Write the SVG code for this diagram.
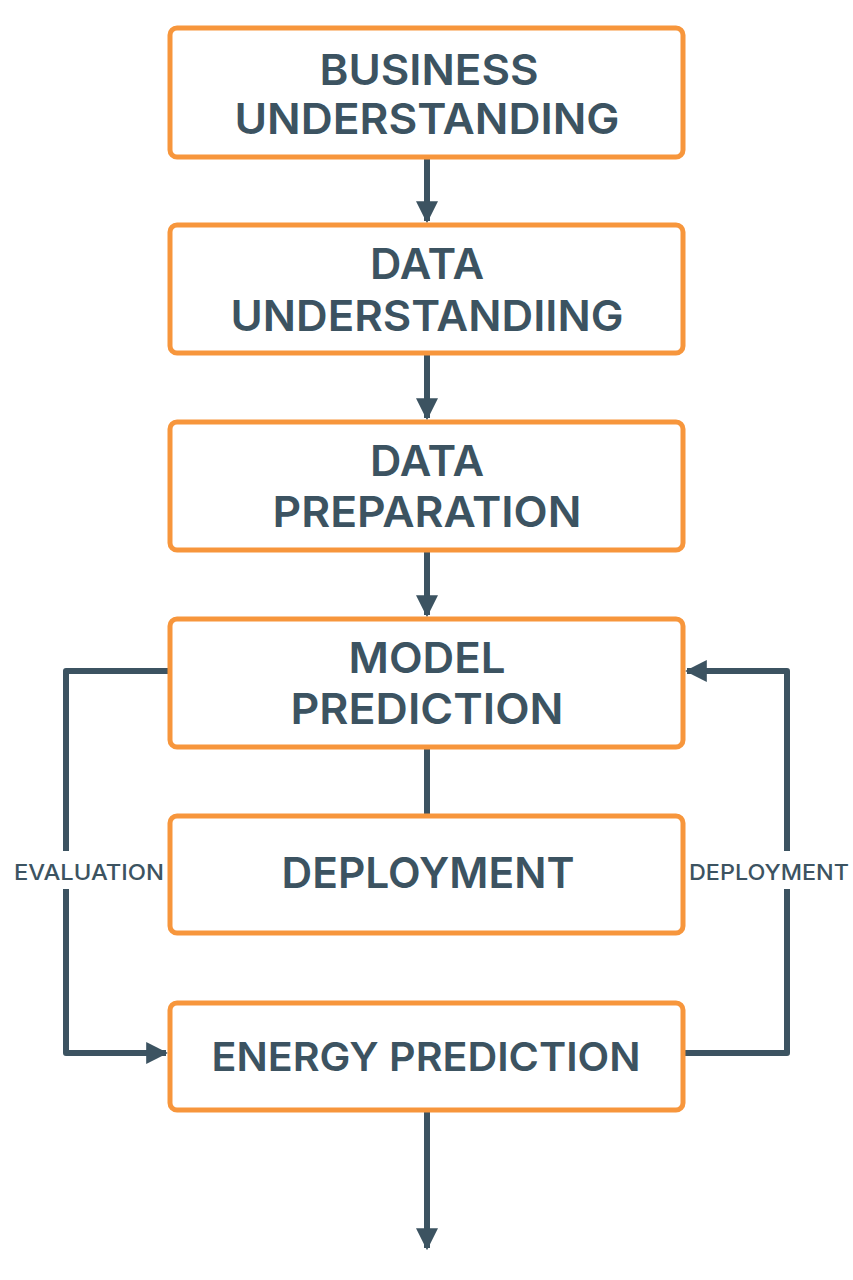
<svg xmlns="http://www.w3.org/2000/svg" width="853" height="1280" viewBox="0 0 853 1280">
<defs>
<style>
.box{fill:#ffffff;stroke:#F7963C;stroke-width:5}
.t{font-family:Inter,"Liberation Sans",Arial,sans-serif;font-weight:600;font-size:43px;fill:#3C5361;text-anchor:middle}
.lbl{font-family:Inter,"Liberation Sans",Arial,sans-serif;font-weight:500;font-size:22px;fill:#3C5361;text-anchor:middle}
.c{fill:none;stroke:#3C5361;stroke-width:6;stroke-linejoin:round}
</style>
<marker id="ah" viewBox="0 0 10 10" refX="9" refY="5" markerUnits="userSpaceOnUse" markerWidth="22" markerHeight="23" orient="auto">
<path d="M0,0 L10,5 L0,10 Z" fill="#3C5361"/>
</marker>
</defs>
<rect width="853" height="1280" fill="#ffffff"/>
<g id="connectors">
<line class="c" x1="427" y1="157" x2="427" y2="221" marker-end="url(#ah)"/>
<line class="c" x1="427" y1="354" x2="427" y2="418" marker-end="url(#ah)"/>
<line class="c" x1="427" y1="551" x2="427" y2="615" marker-end="url(#ah)"/>
<line class="c" x1="427" y1="748" x2="427" y2="815"/>
<line class="c" x1="427" y1="1110" x2="427" y2="1248" marker-end="url(#ah)"/>
<path class="c" d="M170,671 H66 V851"/>
<path class="c" d="M66,889 V1053 H166" marker-end="url(#ah)"/>
<path class="c" d="M684,1053 H787 V889"/>
<path class="c" d="M787,851 V671 H687" marker-end="url(#ah)"/>
<text class="lbl" x="89" y="880" textLength="150" lengthAdjust="spacingAndGlyphs">EVALUATION</text>
<text class="lbl" x="769" y="880" textLength="160" lengthAdjust="spacingAndGlyphs">DEPLOYMENT</text>
</g>
<g id="business">
<rect class="box" x="170" y="28" width="513" height="129" rx="7"/>
<text class="t" x="429" y="85" textLength="219" lengthAdjust="spacingAndGlyphs">BUSINESS</text>
<text class="t" x="427" y="134" textLength="385" lengthAdjust="spacingAndGlyphs">UNDERSTANDING</text>
</g>
<g id="data-understanding">
<rect class="box" x="170" y="225" width="513" height="128" rx="7"/>
<text class="t" x="427" y="279" textLength="114" lengthAdjust="spacingAndGlyphs">DATA</text>
<text class="t" x="427" y="331" textLength="393" lengthAdjust="spacingAndGlyphs">UNDERSTANDIING</text>
</g>
<g id="data-preparation">
<rect class="box" x="170" y="422" width="513" height="128" rx="7"/>
<text class="t" x="427" y="476" textLength="114" lengthAdjust="spacingAndGlyphs">DATA</text>
<text class="t" x="427" y="527" textLength="309" lengthAdjust="spacingAndGlyphs">PREPARATION</text>
</g>
<g id="model-prediction">
<rect class="box" x="170" y="619" width="513" height="128" rx="7"/>
<text class="t" x="427" y="673" textLength="157" lengthAdjust="spacingAndGlyphs">MODEL</text>
<text class="t" x="427" y="724" textLength="273" lengthAdjust="spacingAndGlyphs">PREDICTION</text>
</g>
<g id="deployment">
<rect class="box" x="170" y="816" width="513" height="117" rx="7"/>
<text class="t" x="428" y="888" textLength="293" lengthAdjust="spacingAndGlyphs">DEPLOYMENT</text>
</g>
<g id="energy-prediction">
<rect class="box" x="170" y="1003" width="513" height="107" rx="7"/>
<text class="t" x="426" y="1071" style="font-size:40px" textLength="429" lengthAdjust="spacingAndGlyphs">ENERGY PREDICTION</text>
</g>
</svg>
